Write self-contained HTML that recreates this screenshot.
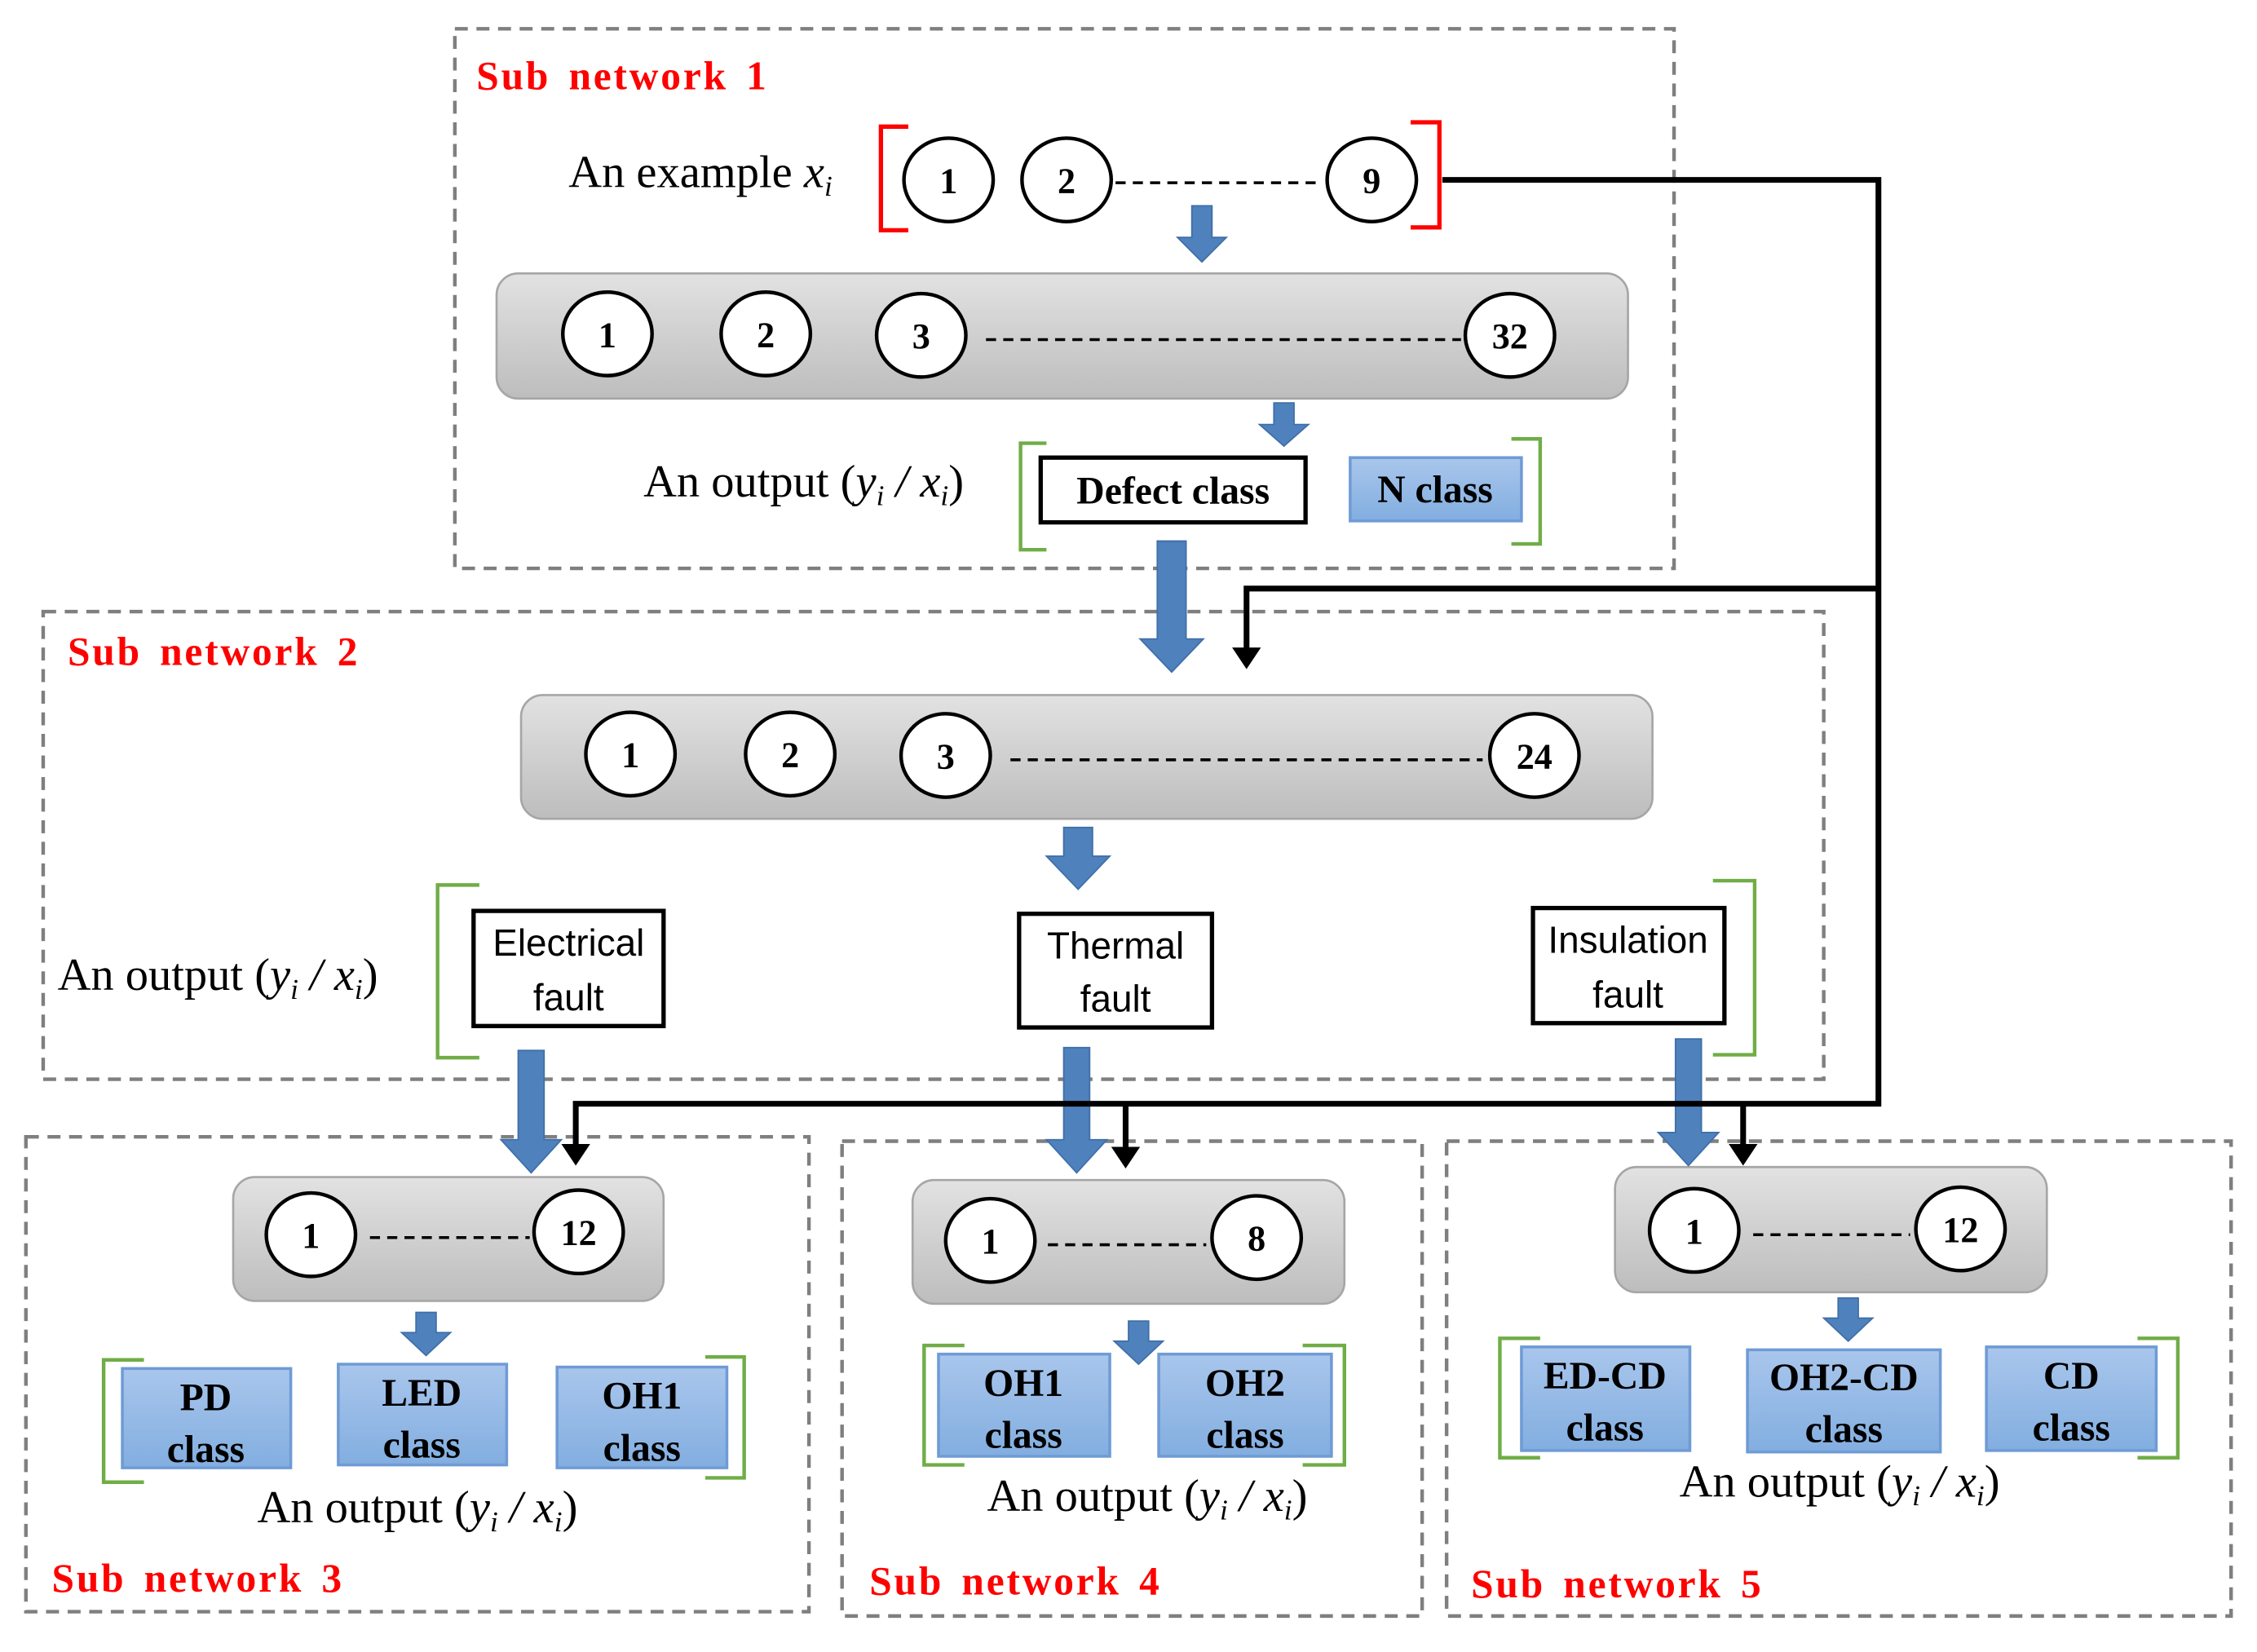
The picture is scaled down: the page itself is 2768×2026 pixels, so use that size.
<!DOCTYPE html>
<html><head><meta charset="utf-8"><style>
html,body{margin:0;padding:0;background:#fff}
svg{display:block}
.lab{font-family:"Liberation Serif",serif;font-weight:bold;fill:#ff0000;font-size:28px;letter-spacing:1.6px;word-spacing:4px}
.txt{font-family:"Liberation Serif",serif;font-size:32px;fill:#000}
.num{font-family:"Liberation Serif",serif;font-weight:bold;font-size:25px;fill:#000;text-anchor:middle}
.bx{font-family:"Liberation Serif",serif;font-weight:bold;font-size:27px;fill:#000;text-anchor:middle}
.sx{font-family:"Liberation Sans",sans-serif;font-size:26px;fill:#000;text-anchor:middle}
</style></head><body>
<svg width="2768" height="2026" viewBox="0 0 1568 1148" preserveAspectRatio="none" xmlns="http://www.w3.org/2000/svg">
<defs>
<linearGradient id="g" x1="0" y1="0" x2="0" y2="1"><stop offset="0" stop-color="#e2e2e2"/><stop offset="1" stop-color="#bdbdbd"/></linearGradient>
<linearGradient id="b" x1="0" y1="0" x2="0" y2="1"><stop offset="0" stop-color="#a9c6ec"/><stop offset="1" stop-color="#82aee0"/></linearGradient>
</defs>
<g fill="none" stroke="#7f7f7f" stroke-width="2.5" stroke-dasharray="9,6">
<rect x="316" y="20" width="847" height="375"/>
<rect x="30" y="425" width="1237" height="325"/>
<rect x="18" y="790" width="544" height="330"/>
<rect x="585" y="793" width="403" height="330"/>
<rect x="1005" y="793" width="545" height="330"/>
</g>
<text class="lab" x="331" y="62">Sub network 1</text>
<text class="lab" x="47" y="462">Sub network 2</text>
<text class="lab" x="36" y="1106">Sub network 3</text>
<text class="lab" x="604" y="1108">Sub network 4</text>
<text class="lab" x="1022" y="1110">Sub network 5</text>

<g fill="url(#g)" stroke="#a6a6a6" stroke-width="1.5">
<rect x="345" y="190" width="786" height="87" rx="15"/>
<rect x="362" y="483" width="786" height="86" rx="15"/>
<rect x="162" y="818" width="299" height="86" rx="15"/>
<rect x="634" y="820" width="300" height="86" rx="15"/>
<rect x="1122" y="811" width="300" height="87" rx="15"/>
</g>

<g stroke="#000" stroke-width="2" stroke-dasharray="7,5">
<line x1="775" y1="127" x2="918" y2="127"/>
<line x1="685" y1="236" x2="1015" y2="236"/>
<line x1="702" y1="528" x2="1030" y2="528"/>
<line x1="257" y1="860" x2="368" y2="860"/>
<line x1="728" y1="865" x2="838" y2="865"/>
<line x1="1218" y1="858" x2="1327" y2="858"/>
</g>

<g fill="#fff" stroke="#000" stroke-width="2.5">
<ellipse cx="659" cy="125" rx="31" ry="29"/><ellipse cx="741" cy="125" rx="31" ry="29"/><ellipse cx="953" cy="125" rx="31" ry="29"/>
<ellipse cx="422" cy="232" rx="31" ry="29"/><ellipse cx="532" cy="232" rx="31" ry="29"/><ellipse cx="640" cy="233" rx="31" ry="29"/><ellipse cx="1049" cy="233" rx="31" ry="29"/>
<ellipse cx="438" cy="524" rx="31" ry="29"/><ellipse cx="549" cy="524" rx="31" ry="29"/><ellipse cx="657" cy="525" rx="31" ry="29"/><ellipse cx="1066" cy="525" rx="31" ry="29"/>
<ellipse cx="216" cy="858" rx="31" ry="29"/><ellipse cx="402" cy="856" rx="31" ry="29"/>
<ellipse cx="688" cy="862" rx="31" ry="29"/><ellipse cx="873" cy="860" rx="31" ry="29"/>
<ellipse cx="1177" cy="855" rx="31" ry="29"/><ellipse cx="1362" cy="854" rx="31" ry="29"/>
</g>
<g class="num">
<text x="659" y="134">1</text><text x="741" y="134">2</text><text x="953" y="134">9</text>
<text x="422" y="241">1</text><text x="532" y="241">2</text><text x="640" y="242">3</text><text x="1049" y="242">32</text>
<text x="438" y="533">1</text><text x="549" y="533">2</text><text x="657" y="534">3</text><text x="1066" y="534">24</text>
<text x="216" y="867">1</text><text x="402" y="865">12</text>
<text x="688" y="871">1</text><text x="873" y="869">8</text>
<text x="1177" y="864">1</text><text x="1362" y="863">12</text>
</g>

<g fill="none" stroke="#ff0000" stroke-width="3">
<path d="M631,88 L612,88 L612,160 L631,160"/>
<path d="M980,85 L1000,85 L1000,158 L980,158"/>
</g>
<g fill="none" stroke="#70ad47" stroke-width="2.5">
<path d="M727,308 L709,308 L709,382 L727,382"/><path d="M1050,305 L1070,305 L1070,378 L1050,378"/>
<path d="M333,615 L304,615 L304,735 L333,735"/><path d="M1190,612 L1219,612 L1219,733 L1190,733"/>
<path d="M100,945 L72,945 L72,1030 L100,1030"/><path d="M490,943 L517,943 L517,1027 L490,1027"/>
<path d="M670,935 L642,935 L642,1018 L670,1018"/><path d="M905,935 L934,935 L934,1018 L905,1018"/>
<path d="M1070,930 L1042,930 L1042,1013 L1070,1013"/><path d="M1485,930 L1513,930 L1513,1013 L1485,1013"/>
</g>

<text class="txt" x="395" y="130">An example <tspan font-style="italic">x<tspan font-size="20" dy="6">i</tspan></tspan></text>
<text class="txt" x="447" y="345">An output (<tspan font-style="italic">y<tspan font-size="20" dy="6">i</tspan><tspan dy="-6"> / x</tspan><tspan font-size="20" dy="6">i</tspan></tspan><tspan dy="-6">)</tspan></text>
<text class="txt" x="40" y="688">An output (<tspan font-style="italic">y<tspan font-size="20" dy="6">i</tspan><tspan dy="-6"> / x</tspan><tspan font-size="20" dy="6">i</tspan></tspan><tspan dy="-6">)</tspan></text>
<text class="txt" x="290" y="1058" text-anchor="middle">An output (<tspan font-style="italic">y<tspan font-size="20" dy="6">i</tspan><tspan dy="-6"> / x</tspan><tspan font-size="20" dy="6">i</tspan></tspan><tspan dy="-6">)</tspan></text>
<text class="txt" x="797" y="1050" text-anchor="middle">An output (<tspan font-style="italic">y<tspan font-size="20" dy="6">i</tspan><tspan dy="-6"> / x</tspan><tspan font-size="20" dy="6">i</tspan></tspan><tspan dy="-6">)</tspan></text>
<text class="txt" x="1278" y="1040" text-anchor="middle">An output (<tspan font-style="italic">y<tspan font-size="20" dy="6">i</tspan><tspan dy="-6"> / x</tspan><tspan font-size="20" dy="6">i</tspan></tspan><tspan dy="-6">)</tspan></text>

<g fill="#fff" stroke="#000" stroke-width="3">
<rect x="723" y="318" width="184" height="45"/>
<rect x="329" y="633" width="132" height="80"/>
<rect x="708" y="635" width="134" height="79"/>
<rect x="1065" y="631" width="133" height="80"/>
</g>
<text class="bx" x="815" y="350">Defect class</text>
<text class="sx" x="395" y="664">Electrical</text><text class="sx" x="395" y="702">fault</text>
<text class="sx" x="775" y="666">Thermal</text><text class="sx" x="775" y="703">fault</text>
<text class="sx" x="1131" y="662">Insulation</text><text class="sx" x="1131" y="700">fault</text>

<g fill="url(#b)" stroke="#6f9bd6" stroke-width="2">
<rect x="938" y="318" width="119" height="44"/>
<rect x="85" y="951" width="117" height="69"/><rect x="235" y="948" width="117" height="70"/><rect x="387" y="950" width="118" height="70"/>
<rect x="652" y="941" width="119" height="71"/><rect x="805" y="941" width="120" height="71"/>
<rect x="1057" y="936" width="117" height="72"/><rect x="1214" y="938" width="134" height="71"/><rect x="1380" y="936" width="118" height="72"/>
</g>
<text class="bx" x="997" y="349">N class</text>
<text class="bx" x="143" y="980">PD</text><text class="bx" x="143" y="1016">class</text>
<text class="bx" x="293" y="977">LED</text><text class="bx" x="293" y="1013">class</text>
<text class="bx" x="446" y="979">OH1</text><text class="bx" x="446" y="1015">class</text>
<text class="bx" x="711" y="970">OH1</text><text class="bx" x="711" y="1006">class</text>
<text class="bx" x="865" y="970">OH2</text><text class="bx" x="865" y="1006">class</text>
<text class="bx" x="1115" y="965">ED-CD</text><text class="bx" x="1115" y="1001">class</text>
<text class="bx" x="1281" y="966">OH2-CD</text><text class="bx" x="1281" y="1002">class</text>
<text class="bx" x="1439" y="965">CD</text><text class="bx" x="1439" y="1001">class</text>

<g fill="#4f81bd" stroke="#3f6fa8" stroke-width="1">
<path d="M828,143 h14 v22 h10 l-17,17 l-17,-17 h10 z"/>
<path d="M885,280 h14 v15 h10 l-17,15 l-17,-15 h10 z"/>
<path d="M804,376 h20 v68 h12 l-22,23 l-22,-23 h12 z"/>
<path d="M739,575 h20 v20 h12 l-22,23 l-22,-23 h12 z"/>
<path d="M360,730 h18 v62 h12 l-21,23 l-21,-23 h12 z"/>
<path d="M739,728 h18 v64 h12 l-21,23 l-21,-23 h12 z"/>
<path d="M1164,722 h18 v65 h12 l-21,23 l-21,-23 h12 z"/>
<path d="M289,912 h14 v14 h10 l-17,16 l-17,-16 h10 z"/>
<path d="M784,918 h14 v14 h10 l-17,16 l-17,-16 h10 z"/>
<path d="M1277,902 h14 v14 h10 l-17,16 l-17,-16 h10 z"/>
</g>

<g fill="none" stroke="#000" stroke-width="4">
<path d="M1002,125 L1305,125 L1305,767 L400,767 L400,800"/>
<path d="M1305,409 L866,409 L866,455"/>
<path d="M782,767 L782,802"/>
<path d="M1211,767 L1211,800"/>
</g>
<g fill="#000">
<path d="M856,450 h20 l-10,15 z"/>
<path d="M390,795 h20 l-10,15 z"/>
<path d="M772,797 h20 l-10,15 z"/>
<path d="M1201,795 h20 l-10,15 z"/>
</g>
</svg>
</body></html>
